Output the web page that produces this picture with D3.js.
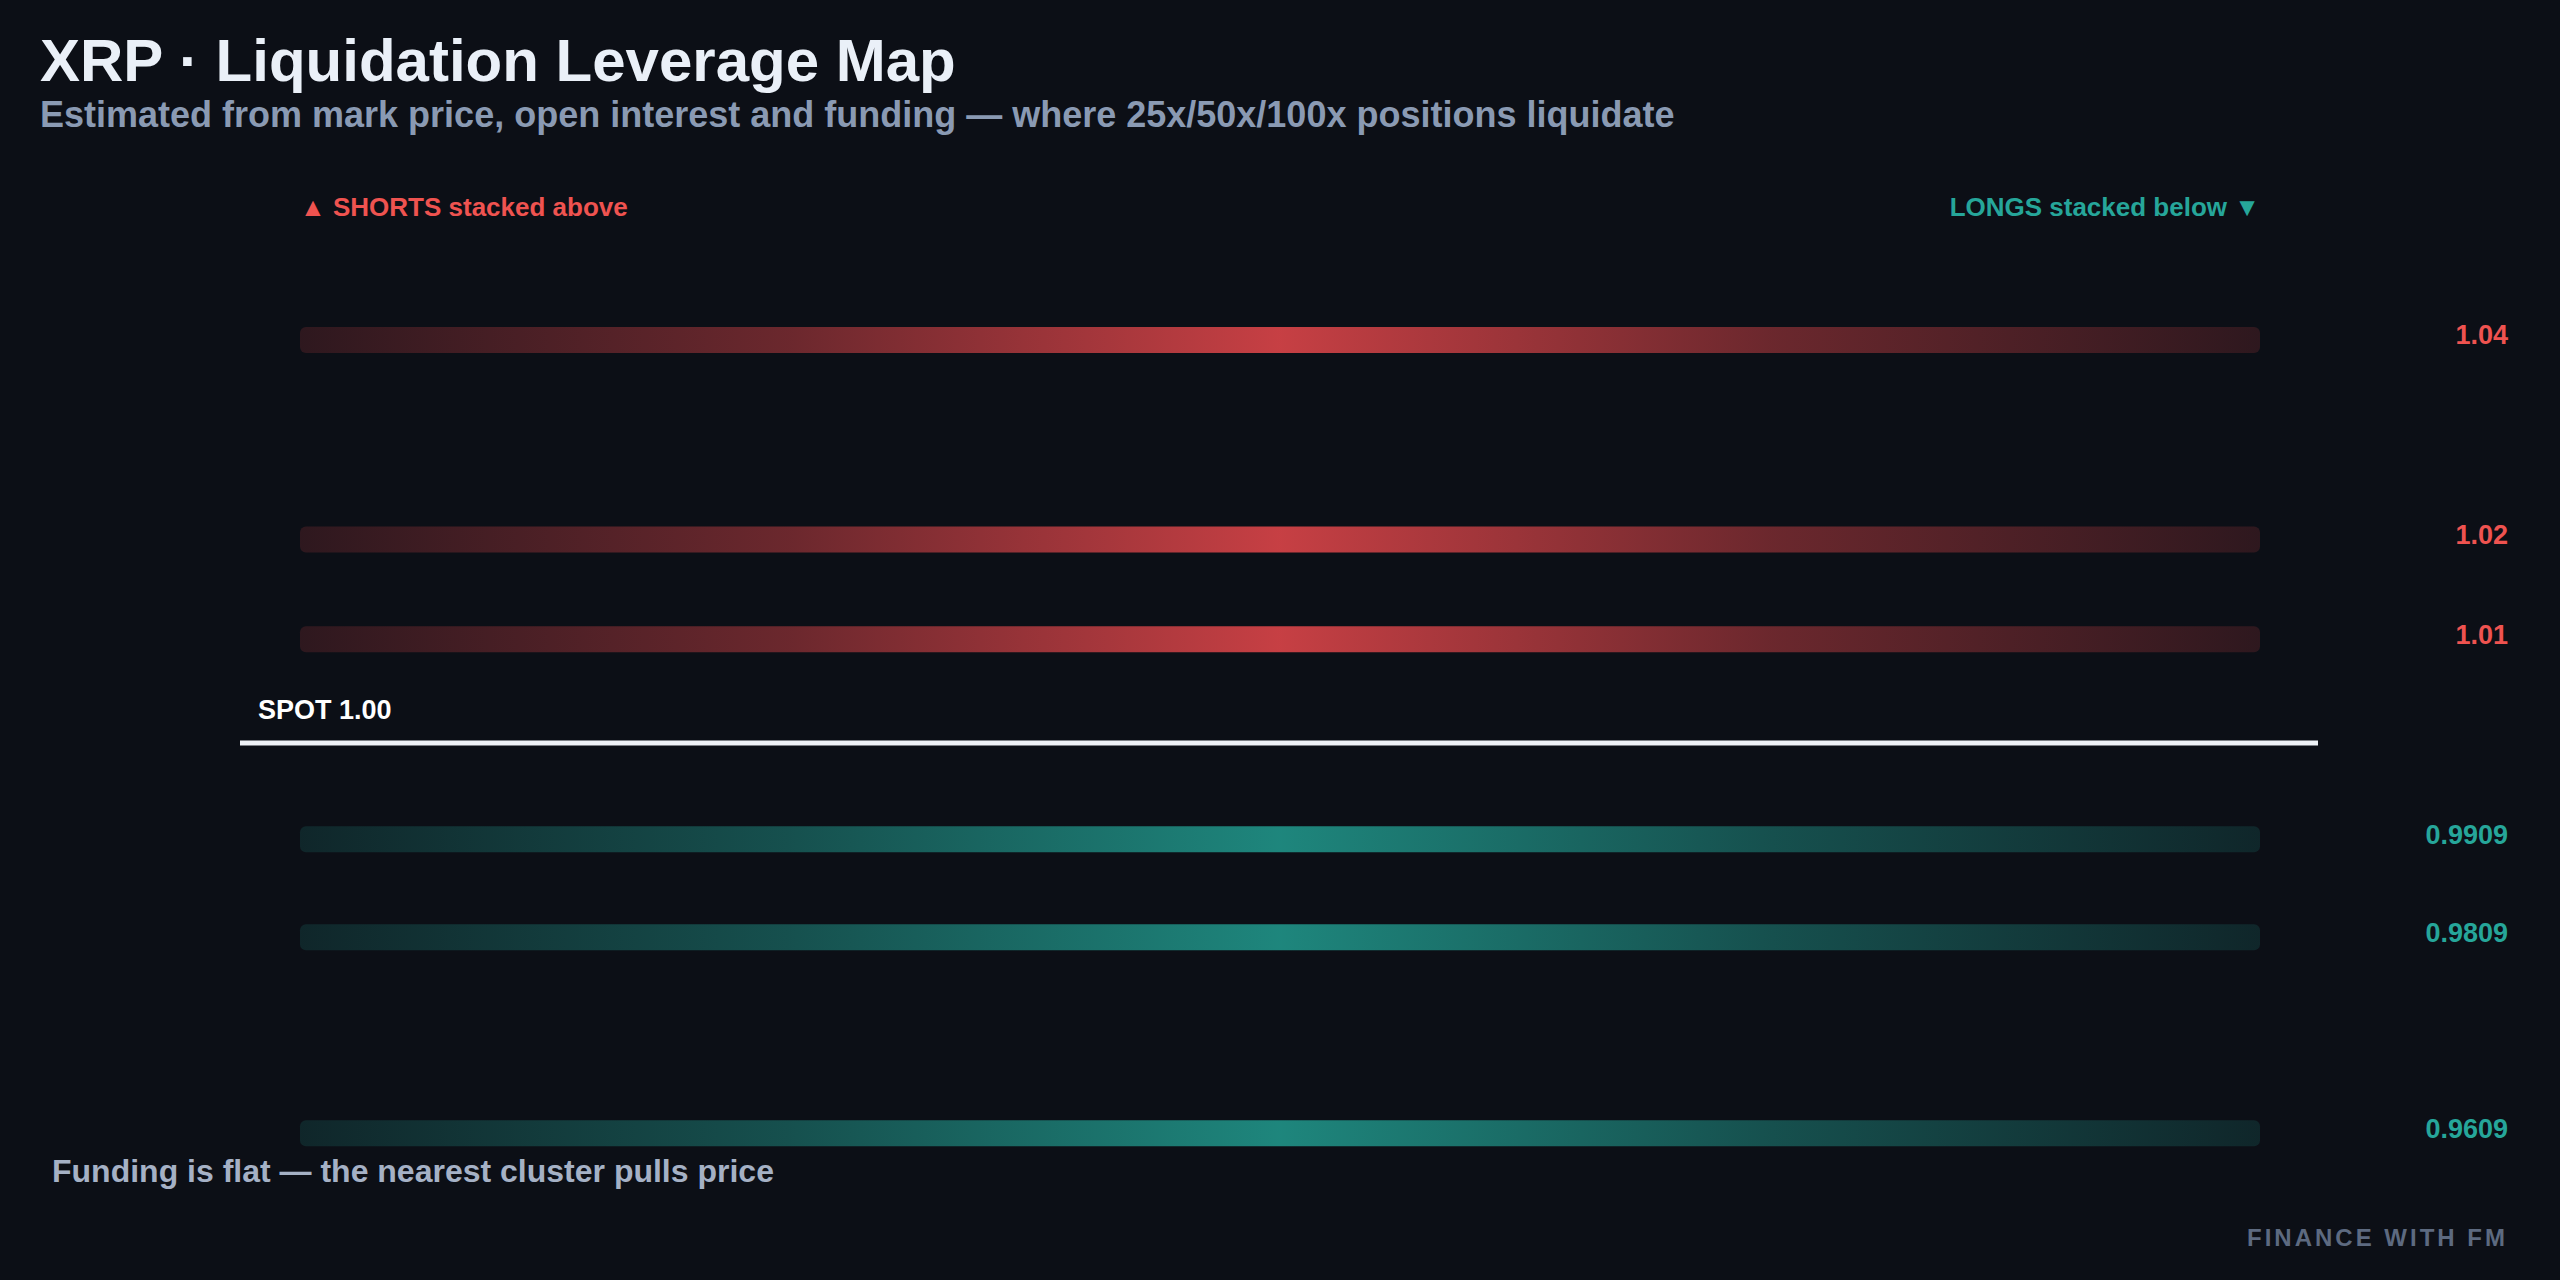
<!DOCTYPE html>
<html><head><meta charset="utf-8">
<script src="https://cdn.jsdelivr.net/npm/d3@7"></script>
<style>
html,body{margin:0;padding:0;background:#0c0f16;}
svg{display:block;}
svg text{font-family:"Liberation Sans",Arial,Helvetica,sans-serif;}
</style></head>
<body>
<svg id="chart" width="2560" height="1280"></svg>
<script>
// liquidation levels
var shortLevels = [1.04, 1.02, 1.01];
var longLevels = [0.9909, 0.9809, 0.9609];
var levelLabels = ["1.04", "1.02", "1.01", "0.9909", "0.9809", "0.9609"];
var spotPrice = 1.00;

var W = 2560, H = 1280;
var svg = d3.select('#chart');
svg.append('rect').attr('width', W).attr('height', H).attr('fill', '#0c0f16');

// shorts above spot, longs below with a small gap around the spot line
var yShort = d3.scaleLinear().domain([1.00, 1.04]).range([739, 340]);
var yLong = d3.scaleLinear().domain([0.96, 1.00]).range([1142, 750]);
var x = d3.scaleLinear().domain([0, 1]).range([300, 2260]);
var ySpot = 743;

var defs = svg.append('defs');
function grad(id, color, peak) {
  var g = defs.append('linearGradient').attr('id', id)
    .attr('x1', '0%').attr('x2', '100%').attr('y1', '0%').attr('y2', '0%');
  [[0, 0.16], [0.25, 0.45], [0.5, peak], [0.75, 0.45], [1, 0.16]].forEach(function(s) {
    g.append('stop').attr('offset', s[0]).attr('stop-color', color).attr('stop-opacity', s[1]);
  });
}
grad('gShort', '#e0464a', 0.88);
grad('gLong', '#22a093', 0.82);

var levels = shortLevels.map(function(p) { return {p: p, side: 'short'}; })
  .concat(longLevels.map(function(p) { return {p: p, side: 'long'}; }));
levels.forEach(function(d, i) {
  d.label = levelLabels[i];
  d.y = d.side === 'short' ? yShort(d.p) : yLong(d.p);
});

var barH = 26;
svg.selectAll('rect.bar').data(levels).enter().append('rect')
  .attr('class', 'bar')
  .attr('x', x(0)).attr('width', x(1) - x(0))
  .attr('y', function(d) { return d.y - barH / 2; })
  .attr('height', barH).attr('rx', 6)
  .attr('fill', function(d) { return d.side === 'short' ? 'url(#gShort)' : 'url(#gLong)'; });

svg.selectAll('text.lvl').data(levels).enter().append('text')
  .attr('class', 'lvl')
  .attr('x', 2508).attr('y', function(d) { return d.y - 5; })
  .attr('dy', '0.35em').attr('text-anchor', 'end')
  .attr('font-size', 27).attr('font-weight', 700)
  .attr('fill', function(d) { return d.side === 'short' ? '#ef5350' : '#26a69a'; })
  .text(function(d) { return d.label; });

// spot line
svg.append('line').attr('x1', 240).attr('x2', 2318)
  .attr('y1', ySpot).attr('y2', ySpot)
  .attr('stroke', '#eef1f6').attr('stroke-width', 5);
svg.append('text').attr('x', 258).attr('y', ySpot - 24)
  .attr('font-size', 27).attr('font-weight', 700).attr('fill', '#ffffff')
  .text('SPOT ' + spotPrice.toFixed(2));

// headings
svg.append('text').attr('x', 40).attr('y', 81)
  .attr('font-size', 60).attr('font-weight', 700).attr('fill', '#eaf0f8')
  .text('XRP · Liquidation Leverage Map');
svg.append('text').attr('x', 40).attr('y', 127)
  .attr('font-size', 36).attr('font-weight', 700).attr('fill', '#8a9ab3')
  .text('Estimated from mark price, open interest and funding — where 25x/50x/100x positions liquidate');

svg.append('text').attr('x', 300).attr('y', 216)
  .attr('font-size', 26).attr('font-weight', 700).attr('fill', '#ef5350')
  .text('▲ SHORTS stacked above');
svg.append('text').attr('x', 2260).attr('y', 216).attr('text-anchor', 'end')
  .attr('font-size', 26).attr('font-weight', 700).attr('fill', '#26a69a')
  .text('LONGS stacked below ▼');

svg.append('text').attr('x', 52).attr('y', 1182)
  .attr('font-size', 32).attr('font-weight', 700).attr('fill', '#a5b1c5')
  .text('Funding is flat — the nearest cluster pulls price');
svg.append('text').attr('x', 2508).attr('y', 1246).attr('text-anchor', 'end')
  .attr('font-size', 24).attr('font-weight', 700).attr('fill', '#5d6a80')
  .attr('letter-spacing', 3)
  .text('FINANCE WITH FM');
</script>
</body></html>
